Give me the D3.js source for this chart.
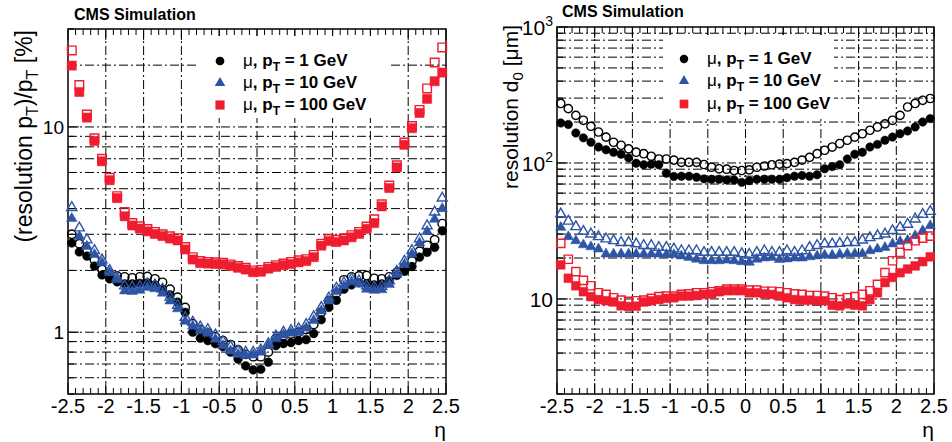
<html>

<head>
    <meta charset="utf-8">
    <script src="https://d3js.org/d3.v7.min.js"></script>
</head>

<body style="margin:0;background:#fff">
    <script>

        // eta bin centres
        var eta = [-2.45, -2.35, -2.25, -2.15, -2.05, -1.95, -1.85, -1.75, -1.65, -1.55,
            -1.45, -1.35, -1.25, -1.15, -1.05, -0.95, -0.85, -0.75, -0.65, -0.55,
            -0.45, -0.35, -0.25, -0.15, -0.05, 0.05, 0.15, 0.25, 0.35, 0.45,
            0.55, 0.65, 0.75, 0.85, 0.95, 1.05, 1.15, 1.25, 1.35, 1.45,
            1.55, 1.65, 1.75, 1.85, 1.95, 2.05, 2.15, 2.25, 2.35, 2.45];

        var xTicks = [-2.5, -2, -1.5, -1, -0.5, 0, 0.5, 1, 1.5, 2, 2.5];
        var xTickLabels = ["-2.5", "-2", "-1.5", "-1", "-0.5", "0", "0.5", "1", "1.5", "2", "2.5"];
        var legendPt = ["1", "10", "100"];

        // pT resolution [%]
        var ptRes1 = [2.72, 2.46, 2.35, 2.1, 1.9, 1.82, 1.76, 1.72, 1.72, 1.73,
            1.74, 1.7, 1.62, 1.52, 1.4, 1.25, 1.0, 0.935, 0.91, 0.88,
            0.85, 0.8, 0.74, 0.685, 0.655, 0.66, 0.715, 0.86, 0.88, 0.89,
            0.91, 0.92, 0.985, 1.15, 1.32, 1.43, 1.62, 1.7, 1.74, 1.72,
            1.7, 1.72, 1.78, 1.89, 1.98, 2.09, 2.32, 2.45, 2.59, 3.12];
        var ptRes1Open = [3.0, 2.7, 2.5, 2.25, 2.02, 1.92, 1.88, 1.86, 1.84, 1.86,
            1.87, 1.82, 1.75, 1.62, 1.48, 1.32, 1.1, 1.03, 0.99, 0.95,
            0.91, 0.87, 0.82, 0.78, 0.76, 0.76, 0.8, 0.93, 0.96, 0.98,
            1.0, 1.03, 1.09, 1.25, 1.42, 1.55, 1.8, 1.86, 1.88, 1.89,
            1.83, 1.82, 1.86, 1.96, 2.08, 2.22, 2.48, 2.65, 2.82, 3.38];
        var ptRes10 = [3.58, 2.93, 2.62, 2.39, 2.18, 1.95, 1.8, 1.59, 1.58, 1.6,
            1.65, 1.63, 1.55, 1.42, 1.3, 1.13, 1.07, 1.02, 0.99, 0.925,
            0.86, 0.81, 0.78, 0.77, 0.775, 0.8, 0.86, 0.93, 0.97, 0.99,
            1.0, 1.05, 1.14, 1.27, 1.42, 1.58, 1.68, 1.76, 1.72, 1.62,
            1.6, 1.61, 1.71, 1.91, 2.14, 2.4, 2.72, 3.1, 3.55, 4.0];
        var ptRes10Open = [4.05, 3.22, 2.82, 2.5, 2.25, 2.0, 1.84, 1.68, 1.66, 1.67,
            1.72, 1.7, 1.62, 1.48, 1.35, 1.18, 1.12, 1.06, 1.03, 0.97,
            0.9, 0.85, 0.81, 0.8, 0.8, 0.82, 0.88, 0.96, 1.0, 1.02,
            1.04, 1.09, 1.19, 1.32, 1.47, 1.64, 1.74, 1.82, 1.78, 1.68,
            1.66, 1.67, 1.78, 1.98, 2.22, 2.5, 2.85, 3.3, 3.85, 4.5];
        var ptRes100 = [19.9, 14.8, 11.1, 8.55, 6.8, 5.5, 4.5, 3.67, 3.31, 3.2,
            3.1, 3.01, 2.94, 2.86, 2.8, 2.53, 2.26, 2.17, 2.16, 2.15,
            2.14, 2.1, 2.06, 2.02, 1.96, 1.97, 2.04, 2.08, 2.12, 2.15,
            2.19, 2.22, 2.32, 2.64, 2.78, 2.75, 2.8, 2.9, 3.01, 3.19,
            3.4, 4.1, 5.04, 6.35, 8.18, 9.86, 11.7, 13.7, 16.7, 18.4];
        var ptRes100Open = [23.6, 16.0, 11.5, 8.8, 7.0, 5.65, 4.6, 3.85, 3.4, 3.28,
            3.18, 3.08, 3.0, 2.93, 2.87, 2.6, 2.32, 2.22, 2.2, 2.19,
            2.18, 2.14, 2.1, 2.06, 2.0, 2.01, 2.08, 2.12, 2.16, 2.2,
            2.24, 2.27, 2.38, 2.7, 2.84, 2.82, 2.87, 2.97, 3.08, 3.27,
            3.55, 4.2, 5.18, 6.5, 8.4, 10.1, 12.1, 15.4, 20.6, 24.4];

        // d0 resolution [um]
        var d0Res1 = [197, 192, 166, 153, 142, 131, 125, 120, 116, 109,
            99.6, 97, 98, 97, 84, 79.6, 80, 80, 78.5, 76.4,
            76, 76, 75, 75, 72, 74, 76, 76, 76, 76,
            78, 80, 81, 80, 82, 90.6, 94, 97, 107, 116,
            120, 131, 137, 147, 155, 164, 172, 184, 200, 212];
        var d0Res1Open = [274, 251, 224, 206, 186, 169, 155, 142, 135, 127,
            120, 117, 112, 107, 107, 105, 101, 101, 101, 97.5,
            93, 90.6, 90, 88, 88, 89, 93, 95, 97, 98,
            99, 101, 105, 110, 117, 124, 131, 139, 147, 155,
            164, 174, 184, 194, 206, 224, 258, 274, 289, 298];
        var d0Res10 = [33.6, 28.7, 26.8, 25, 24.2, 23.3, 21.4, 21.4, 21.4, 21.4,
            21.4, 21.4, 21.4, 21.4, 21.2, 21.2, 20.7, 20.2, 19.6, 19.1,
            19.1, 19.1, 19.3, 19.1, 18.8, 18.6, 19.6, 20, 20.2, 19.5,
            19.7, 20, 20, 20.4, 20.7, 21, 21, 21.3, 21.5, 21.5,
            21.5, 22.6, 23.3, 23.9, 25.4, 26.5, 27, 29.2, 31.8, 34.6];
        var d0Res10Open = [42.2, 37.3, 34, 31.4, 30, 28.7, 27.6, 26.8, 26, 26,
            25.4, 24.7, 24.7, 23.9, 23.9, 23.3, 22.6, 22.6, 22.6, 22,
            22, 22, 22, 22, 21.5, 21.3, 22, 22.6, 22, 22,
            22.6, 22, 22.6, 23.9, 24.7, 25.4, 25.4, 25.6, 26, 26,
            27.1, 28.2, 29.2, 30, 31.8, 33.6, 35.4, 38.7, 41.8, 44];
        var d0Res100 = [17.8, 14.2, 12.5, 11.3, 10.4, 9.9, 9.7, 9.5, 8.9, 8.8,
            8.85, 9.5, 9.7, 9.9, 10.1, 10.2, 10.5, 10.5, 10.6, 10.8,
            10.9, 11.3, 11.5, 11.5, 11.5, 11.1, 11.1, 10.9, 10.8, 10.5,
            10.2, 9.9, 9.8, 9.8, 9.7, 9.7, 9.0, 8.9, 9.2, 9.0,
            8.9, 9.9, 11.1, 13.2, 14.4, 15.6, 16.6, 17.5, 18.8, 20.4];
        var d0Res100Open = [25.6, 19.6, 15.9, 13.7, 12.5, 11.1, 10.8, 10.2, 9.8, 9.6,
            9.7, 9.8, 10.1, 10.4, 10.5, 10.5, 10.8, 10.9, 11.1, 11.1,
            11.3, 11.5, 11.8, 11.8, 11.8, 11.6, 11.6, 11.4, 11.4, 11.3,
            11.1, 10.9, 10.8, 10.6, 10.6, 10.5, 10.2, 9.9, 10.2, 10.4,
            10.8, 11.5, 12.8, 15.6, 19.1, 22, 24.7, 26.8, 28, 29];

        var leftYTickValues = [1, 10];
        var rightYTickValues = [10, 100, 1000];
        var rightYTickExp = ["", "2", "3"];

        var black = "#000", blue = "#2e55a5", red = "#ee1d2f";
        var font = "'Liberation Sans', Arial, Helvetica, sans-serif";

        var svg = d3.select("body").append("svg")
            .attr("width", 952).attr("height", 442)
            .style("font-family", font);

        function drawPanel(p) {
            var x = d3.scaleLinear().domain([-2.5, 2.5]).range([p.x0, p.x1]);
            var y = d3.scaleLog().domain(p.yDomain).range([p.y1, p.y0]);
            var g = svg.append("g");

            // grid (dash-dot)
            var dash = "9,3,2,3";
            g.selectAll(".vg").data(xTicks.slice(1, -1)).enter().append("line")
                .attr("x1", d => x(d)).attr("x2", d => x(d))
                .attr("y1", p.y0).attr("y2", p.y1)
                .attr("stroke", "#000").attr("stroke-width", 1).attr("stroke-dasharray", dash);
            var yt = y.ticks().filter(v => v > p.yDomain[0] * 1.001 && v < p.yDomain[1] * 0.999);
            g.selectAll(".hg").data(yt).enter().append("line")
                .attr("x1", p.x0).attr("x2", p.x1)
                .attr("y1", d => y(d)).attr("y2", d => y(d))
                .attr("stroke", "#000").attr("stroke-width", 1).attr("stroke-dasharray", dash);

            // ticks on x (bottom and top, inside)
            var minor = d3.range(0, 51).map(i => -2.5 + i * 0.1);
            minor.forEach(function (v, i) {
                var len = (i % 5 === 0) ? 11 : 6;
                g.append("line").attr("x1", x(v)).attr("x2", x(v))
                    .attr("y1", p.y1).attr("y2", p.y1 - len).attr("stroke", "#000").attr("stroke-width", 1);
                g.append("line").attr("x1", x(v)).attr("x2", x(v))
                    .attr("y1", p.y0).attr("y2", p.y0 + len).attr("stroke", "#000").attr("stroke-width", 1);
            });
            // ticks on y (left, inside)
            y.ticks().forEach(function (v) {
                var major = Math.abs(Math.log10(v) - Math.round(Math.log10(v))) < 1e-6;
                g.append("line").attr("x1", p.x0).attr("x2", p.x0 + (major ? 11 : 6))
                    .attr("y1", y(v)).attr("y2", y(v)).attr("stroke", "#000").attr("stroke-width", 1);
            });

            // legend box
            g.append("rect").attr("x", p.leg.x0).attr("y", p.leg.y0)
                .attr("width", p.leg.x1 - p.leg.x0).attr("height", p.leg.y1 - p.leg.y0)
                .attr("fill", "#fff");

            // frame
            g.append("rect").attr("x", p.x0).attr("y", p.y0)
                .attr("width", p.x1 - p.x0).attr("height", p.y1 - p.y0)
                .attr("fill", "none").attr("stroke", "#000").attr("stroke-width", 1.5);

            // markers
            p.series.forEach(function (s) {
                var sym = d3.symbol().type(s.type).size(s.size);
                g.append("g").selectAll("path").data(s.values).enter().append("path")
                    .attr("d", sym)
                    .attr("transform", (d, i) => "translate(" + x(eta[i]) + "," + y(d) + ")")
                    .attr("fill", s.open ? "none" : s.color)
                    .attr("stroke", s.color)
                    .attr("stroke-width", s.open ? 1.4 : 0.5);
            });

            // x tick labels
            g.selectAll(".xl").data(xTicks).enter().append("text")
                .attr("x", d => x(d)).attr("y", 413)
                .attr("text-anchor", "middle").attr("font-size", 20)
                .text((d, i) => xTickLabels[i]);
            g.append("text").attr("x", p.x1).attr("y", 437)
                .attr("text-anchor", "end").attr("font-size", 21).text("η");

            // CMS Simulation
            g.append("text").attr("x", p.cms[0]).attr("y", p.cms[1])
                .attr("font-size", 16).attr("font-weight", "bold").text("CMS Simulation");

            // legend entries
            var legTypes = [d3.symbolCircle, d3.symbolTriangle, d3.symbolSquare];
            var legColors = [black, blue, red];
            var legSizes = [p.series[1].size, p.series[3].size, p.series[5].size];
            legendPt.forEach(function (pt, i) {
                var cy = p.leg.rows[i];
                g.append("path").attr("d", d3.symbol().type(legTypes[i]).size(legSizes[i]))
                    .attr("transform", "translate(" + p.leg.mx + "," + cy + ")")
                    .attr("fill", legColors[i]);
                var t = g.append("text").attr("x", p.leg.tx).attr("y", cy + 5)
                    .attr("font-size", 17).attr("font-weight", "bold");
                t.append("tspan").attr("font-weight", "normal").text("μ");
                t.append("tspan").text(", p");
                t.append("tspan").attr("font-size", 12).attr("dy", 5).text("T");
                t.append("tspan").attr("dy", -5).text(" = " + pt + " GeV");
            });

            return { x: x, y: y, g: g };
        }

        // left panel: pT resolution
        var L = drawPanel({
            x0: 68, x1: 446, y0: 29, y1: 394, yDomain: [0.5, 30],
            cms: [74, 20],
            leg: { x0: 196, x1: 389, y0: 36, y1: 118, mx: 220, tx: 243, rows: [61, 83, 105] },
            series: [
                { values: ptRes1Open, color: black, type: d3.symbolCircle, size: 56, open: true },
                { values: ptRes1, color: black, type: d3.symbolCircle, size: 60, open: false },
                { values: ptRes10Open, color: blue, type: d3.symbolTriangle, size: 44, open: true },
                { values: ptRes10, color: blue, type: d3.symbolTriangle, size: 48, open: false },
                { values: ptRes100Open, color: red, type: d3.symbolSquare, size: 74, open: true },
                { values: ptRes100, color: red, type: d3.symbolSquare, size: 84, open: false }
            ]
        });
        leftYTickValues.forEach(function (v) {
            L.g.append("text").attr("x", 64).attr("y", L.y(v)).attr("dy", "0.36em")
                .attr("text-anchor", "end").attr("font-size", 19).text(String(v));
        });
        var lt = L.g.append("text").attr("transform", "translate(32,30) rotate(-90)")
            .attr("text-anchor", "end").attr("font-size", 23);
        lt.append("tspan").text("(resolution p");
        lt.append("tspan").attr("font-size", 16).attr("dy", 6).text("T");
        lt.append("tspan").attr("dy", -6).text(")/p");
        lt.append("tspan").attr("font-size", 16).attr("dy", 6).text("T");
        lt.append("tspan").attr("dy", -6).text(" [%]");

        // right panel: d0 resolution
        var R = drawPanel({
            x0: 557, x1: 934, y0: 27, y1: 394, yDomain: [2, 1000],
            cms: [562, 17],
            leg: { x0: 663, x1: 834, y0: 35, y1: 119, mx: 684, tx: 707, rows: [59, 81, 104] },
            series: [
                { values: d0Res1Open, color: black, type: d3.symbolCircle, size: 54, open: true },
                { values: d0Res1, color: black, type: d3.symbolCircle, size: 56, open: false },
                { values: d0Res10Open, color: blue, type: d3.symbolTriangle, size: 44, open: true },
                { values: d0Res10, color: blue, type: d3.symbolTriangle, size: 46, open: false },
                { values: d0Res100Open, color: red, type: d3.symbolSquare, size: 68, open: true },
                { values: d0Res100, color: red, type: d3.symbolSquare, size: 76, open: false }
            ]
        });
        rightYTickValues.forEach(function (v, i) {
            var t = R.g.append("text").attr("x", 553).attr("y", R.y(v)).attr("dy", "0.36em")
                .attr("text-anchor", "end").attr("font-size", 21);
            t.append("tspan").text("10");
            if (rightYTickExp[i]) t.append("tspan").attr("font-size", 14).attr("dy", -9).text(rightYTickExp[i]);
        });
        var rt = R.g.append("text").attr("transform", "translate(518,25) rotate(-90)")
            .attr("text-anchor", "end").attr("font-size", 21);
        rt.append("tspan").text("resolution d");
        rt.append("tspan").attr("font-size", 15).attr("dy", 5).text("0");
        rt.append("tspan").attr("dy", -5).text(" [μm]");
    </script>
</body>

</html>
